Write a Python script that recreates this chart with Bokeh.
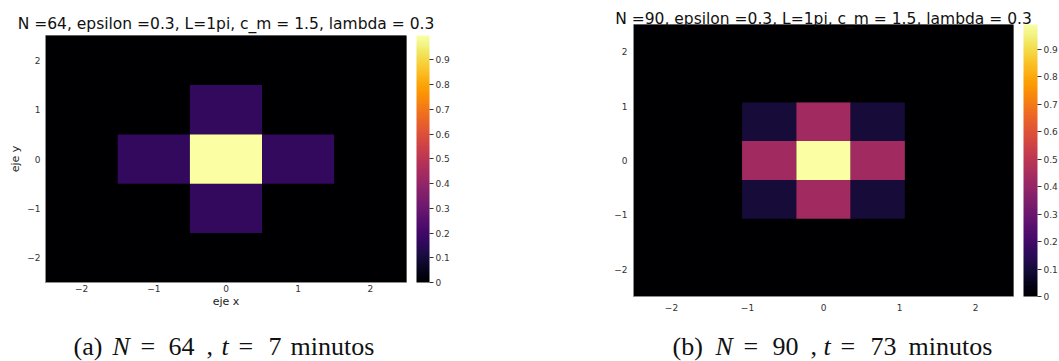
from bokeh.plotting import figure
from bokeh.models import (ColumnDataSource, LinearColorMapper, ColorBar, FixedTicker,
                          NumeralTickFormatter, Label, Range1d)
from bokeh.layouts import row, column
from bokeh.palettes import Inferno256
from bokeh.embed import file_html
from bokeh.resources import INLINE

# ---------------- data ----------------
title_a = "N =64, epsilon =0.3, L=1pi, c_m = 1.5, lambda = 0.3"
title_b = "N =90, epsilon =0.3, L=1pi, c_m = 1.5, lambda = 0.3"
domain = [-2.5, 2.5]
axis_ticks = [-2, -1, 0, 1, 2]
axis_tick_labels = ["−2", "−1", "0", "1", "2"]
cbar_ticks = [0, 0.1, 0.2, 0.3, 0.4, 0.5, 0.6, 0.7, 0.8, 0.9]
x_label_a = "eje x"
y_label_a = "eje y"

# heat values, rows listed from bottom (y = -2.5 side) to top
grid_a = [
    [0, 0, 0, 0, 0],
    [0, 0, 0.165, 0, 0],
    [0, 0.165, 0.998, 0.165, 0],
    [0, 0, 0.165, 0, 0],
    [0, 0, 0, 0, 0],
]
grid_b = [
    [0, 0, 0, 0, 0, 0, 0],
    [0, 0, 0, 0, 0, 0, 0],
    [0, 0, 0.10, 0.43, 0.10, 0, 0],
    [0, 0, 0.43, 0.99, 0.43, 0, 0],
    [0, 0, 0.10, 0.43, 0.10, 0, 0],
    [0, 0, 0, 0, 0, 0, 0],
    [0, 0, 0, 0, 0, 0, 0],
]

caption_a = [("(a)", False), ("N", True), ("=", False), ("64", False), (",", False),
             ("t", True), ("=", False), ("7", False), ("minutos", False)]
caption_b = [("(b)", False), ("N", True), ("=", False), ("90", False), (",", False),
             ("t", True), ("=", False), ("73", False), ("minutos", False)]

# ---------------- layout ----------------
MAIN_H = 326
CAP_H = 35
LAY_A = dict(width=530, bl=45, br=124, bt=35, bb=44, frame_w=361, frame_h=247,
             xstand=2, ystand=5, cbar_w=13, fig_left=0, title_standoff=5,
             cap_x=[73, 112, 140, 168, 206, 221, 238, 268, 290])
LAY_B = dict(width=529, bl=103, br=46, bt=24, bb=30, frame_w=380, frame_h=272,
             xstand=7, ystand=6, cbar_w=14, fig_left=530, title_standoff=-6,
             cap_x=[672, 715, 743, 772, 810, 823, 840, 870, 908])
CAP_BASELINE = 15          # px above caption strip bottom

TICK_FONT = "DejaVu Sans"
TEXT_COLOR = "#333333"
TITLE_SIZE = "15.5px"


def cell_source(grid):
    lo, hi = domain
    nr, nc = len(grid), len(grid[0])
    w, h = (hi - lo) / nc, (hi - lo) / nr
    xs, ys, vs = [], [], []
    for i, r in enumerate(grid):
        for j, v in enumerate(r):
            xs.append(lo + (j + 0.5) * w)
            ys.append(lo + (i + 0.5) * h)
            vs.append(v)
    return ColumnDataSource(dict(x=xs, y=ys, v=vs)), w, h


def panel(grid, lay, title, labels=None):
    p = figure(width=lay["width"], height=MAIN_H,
               x_range=tuple(domain), y_range=tuple(domain),
               min_border_left=lay["bl"], min_border_right=lay["br"],
               min_border_top=lay["bt"], min_border_bottom=lay["bb"],
               output_backend="svg", toolbar_location=None,
               background_fill_color="#000004", border_fill_color="white",
               outline_line_color=None, title=title)
    p.frame_align = False
    p.grid.grid_line_color = None
    p.title.align = "center"
    p.title.text_font = "DejaVu Sans"
    p.title.text_font_size = TITLE_SIZE
    p.title.text_font_style = "normal"
    p.title.text_color = "#111111"
    p.title.standoff = lay["title_standoff"]

    src, w, h = cell_source(grid)
    vmax = max(max(r) for r in grid)
    mapper = LinearColorMapper(palette=Inferno256, low=0, high=vmax)
    p.rect(x="x", y="y", width=w, height=h, source=src,
           fill_color={"field": "v", "transform": mapper}, line_color=None)

    for ax, st in ((p.xaxis[0], lay["xstand"]), (p.yaxis[0], lay["ystand"])):
        ax.ticker = FixedTicker(ticks=axis_ticks)
        ax.major_label_overrides = dict(zip(axis_ticks, axis_tick_labels))
        ax.major_tick_in = 0
        ax.major_tick_out = 0
        ax.minor_tick_line_color = None
        ax.axis_line_color = "#8c8c8c"
        ax.axis_line_width = 1
        ax.major_label_text_font = TICK_FONT
        ax.major_label_text_font_size = "9px"
        ax.major_label_text_color = TEXT_COLOR
        ax.major_label_standoff = st
        ax.axis_label_text_font = TICK_FONT
        ax.axis_label_text_font_size = "11px"
        ax.axis_label_text_font_style = "normal"
        ax.axis_label_text_color = "#222222"
    if labels:
        p.xaxis.axis_label = labels[0]
        p.yaxis.axis_label = labels[1]
        p.xaxis.axis_label_standoff = 0
        p.yaxis.axis_label_standoff = 2

    cb = ColorBar(color_mapper=mapper, location=(lay["frame_w"] + 10, 0),
                  width=lay["cbar_w"], height=lay["frame_h"], padding=0, margin=0,
                  ticker=FixedTicker(ticks=cbar_ticks),
                  formatter=NumeralTickFormatter(format="0.[0]"),
                  major_tick_in=0, major_tick_out=4, major_tick_line_color=TEXT_COLOR,
                  minor_tick_line_color=None, bar_line_color=None,
                  major_label_text_font=TICK_FONT, major_label_text_font_size="9px",
                  major_label_text_color=TEXT_COLOR, label_standoff=2,
                  background_fill_color=None, border_line_color=None)
    p.add_layout(cb, "center")
    return p


def caption_strip(caption, lay):
    c = figure(width=lay["width"], height=CAP_H,
               x_range=Range1d(0, lay["width"]), y_range=Range1d(0, CAP_H),
               min_border=0, x_axis_location=None, y_axis_location=None,
               output_backend="svg", toolbar_location=None,
               background_fill_color="white", border_fill_color="white",
               outline_line_color=None)
    c.frame_align = False
    c.grid.grid_line_color = None
    for (txt, ital), px in zip(caption, lay["cap_x"]):
        c.add_layout(Label(x=px - lay["fig_left"], y=CAP_BASELINE,
                           text=txt, text_align="left", text_baseline="alphabetic",
                           text_font="Liberation Serif", text_font_size="26px",
                           text_font_style="italic" if ital else "normal",
                           text_color="#111111"))
    return c


pa = panel(grid_a, LAY_A, title_a, labels=(x_label_a, y_label_a))
pb = panel(grid_b, LAY_B, title_b)
ca = caption_strip(caption_a, LAY_A)
cb_ = caption_strip(caption_b, LAY_B)

layout = column(row(pa, pb, spacing=0), row(ca, cb_, spacing=0), spacing=0)
open("out.html", "w").write(file_html(layout, INLINE))
